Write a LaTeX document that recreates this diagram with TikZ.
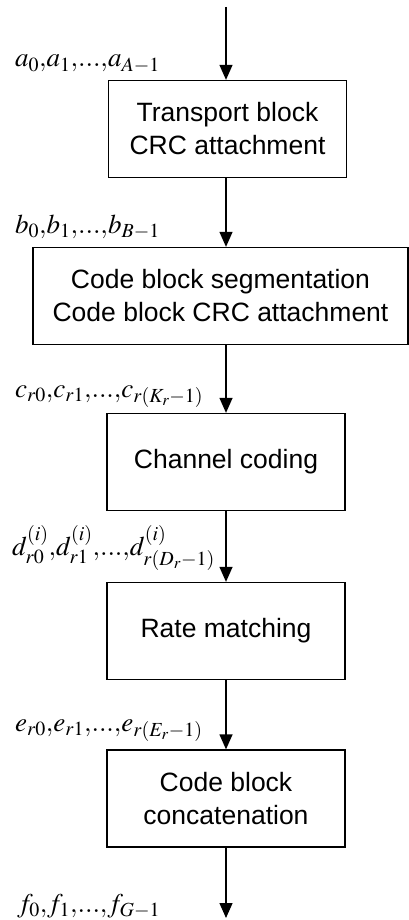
\documentclass[tikz,border=0pt]{standalone}
\usepackage{mathptmx}
\usepackage{fontspec}
\setmainfont{Liberation Sans}
\usetikzlibrary{arrows.meta}

\tikzset{
  block/.style={draw, line width=1.3pt, minimum width=238pt, minimum height=97pt,
    align=center, inner sep=0pt, font=\fontsize{26.5}{33}\selectfont},
  seqlabel/.style={anchor=base west, inner sep=0pt, font=\fontsize{27}{30}\selectfont},
  flow/.style={-{Triangle[length=15pt,width=13pt]}, line width=1.3pt}
}

\begin{document}
\begin{tikzpicture}[x=1pt,y=-1pt]
\useasboundingbox (0,0) rectangle (409,920);
\coordinate (in) at (226,7);
\coordinate (out) at (226,918);
\node[block] (tbcrc) at (227.5,129) {Transport block\\CRC attachment};
\node[block, minimum width=375pt] (cbseg) at (220.5,296) {Code block segmentation\\Code block CRC attachment};
\node[block] (chcod) at (226,462) {Channel coding};
\node[block] (ratem) at (226,631) {Rate matching};
\node[block] (cbcat) at (226,798.5) {Code block\\concatenation};
\node[seqlabel] (seqa) at (15,67) {$a_0{,}a_1{,}...{,}a_{A-1}$};
\node[seqlabel] (seqb) at (15,233) {$b_0{,}b_1{,}...{,}b_{B-1}$};
\node[seqlabel] (seqc) at (15,397) {$c_{r0}{,}c_{r1}{,}...{,}c_{r(K_r-1)}$};
\node[seqlabel] (seqd) at (12,555) {$d^{(i)}_{r0}{,}d^{(i)}_{r1}{,}...{,}d^{(i)}_{r(D_r-1)}$};
\node[seqlabel] (seqe) at (15,731) {$e_{r0}{,}e_{r1}{,}...{,}e_{r(E_r-1)}$};
\node[seqlabel] (seqf) at (17,912) {$f_0{,}f_1{,}...{,}f_{G-1}$};
\draw[flow] (in) -- (in |- tbcrc.north);
\draw[flow] (in |- tbcrc.south) -- (in |- cbseg.north);
\draw[flow] (in |- cbseg.south) -- (in |- chcod.north);
\draw[flow] (chcod.south) -- (ratem.north);
\draw[flow] (ratem.south) -- (cbcat.north);
\draw[flow] (cbcat.south) -- (out);
\end{tikzpicture}
\end{document}
